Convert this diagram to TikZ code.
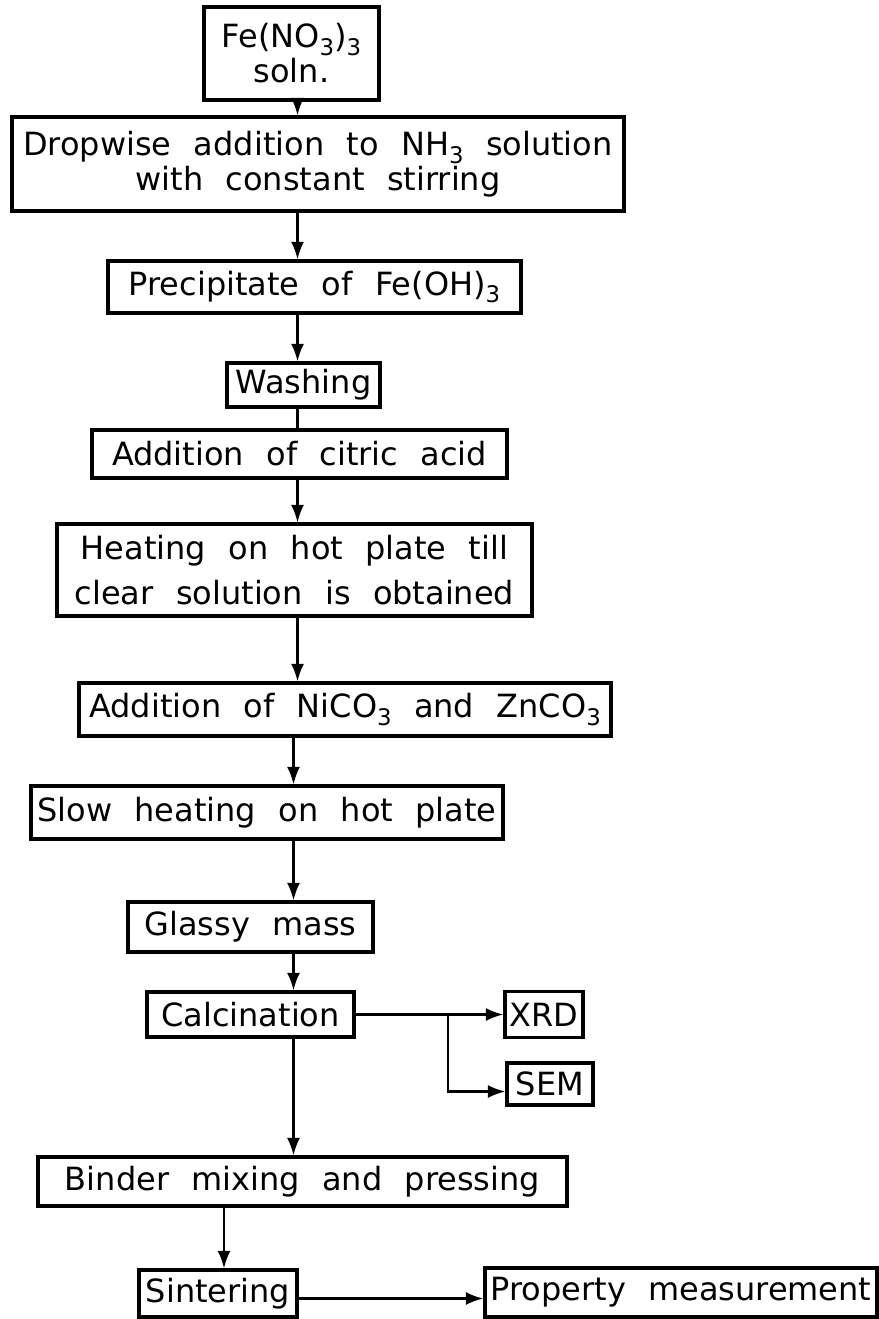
\documentclass[tikz,border=0pt]{standalone}
\usepackage{fontspec}
\setmainfont{DejaVu Sans}[WordSpace=2.2]
\usetikzlibrary{arrows.meta}
\newcommand{\chemsub}[1]{\raisebox{-0.45ex}{\fontsize{13}{13}\selectfont #1}}

\begin{document}
\begin{tikzpicture}[
  stepbox/.style={draw, rectangle, line width=1.8pt, inner sep=1pt, align=center, font=\fontsize{18.2}{20}\selectfont},
  arr/.style={line width=1.4pt, -{Latex[length=3.5mm,width=2.6mm]}},
  link/.style={line width=1.4pt}
]
\useasboundingbox (0,0) rectangle (17.58,-26.38);

% main column
\node[stepbox, minimum width=3.5cm, minimum height=1.86cm] (fe) at (5.83,-1.07) {Fe(NO\chemsub{3})\chemsub{3}\\soln.};
\node[stepbox, minimum width=12.24cm, minimum height=1.88cm] (drop) at (6.36,-3.28) {Dropwise addition to NH\chemsub{3} solution\\with constant stirring};
\node[stepbox, minimum width=8.26cm, minimum height=1.04cm] (prec) at (6.29,-5.74) {Precipitate of Fe(OH)\chemsub{3}};
\node[stepbox, minimum width=3.06cm, minimum height=0.88cm] (wash) at (6.07,-7.70) {Washing};
\node[stepbox, minimum width=8.3cm, minimum height=0.96cm] (citric) at (5.99,-9.08) {Addition of citric acid};
\node[stepbox, minimum width=9.5cm, minimum height=1.84cm] (heat) at (5.89,-11.40) {Heating on hot plate till\\[6pt]clear solution is obtained};
\node[stepbox, minimum width=10.64cm, minimum height=1.06cm] (nico) at (6.90,-14.19) {Addition of NiCO\chemsub{3} and ZnCO\chemsub{3}};
\node[stepbox, minimum width=9.44cm, minimum height=1.06cm] (slow) at (5.34,-16.25) {Slow heating on hot plate};
\node[stepbox, minimum width=4.9cm, minimum height=1.0cm] (glassy) at (5.01,-18.54) {Glassy mass};
\node[stepbox, minimum width=4.14cm, minimum height=0.9cm] (calc) at (5.01,-20.29) {Calcination};
\node[stepbox, minimum width=10.58cm, minimum height=0.98cm] (binder) at (6.05,-23.63) {Binder mixing and pressing};
\node[stepbox, minimum width=3.16cm, minimum height=0.94cm] (sint) at (4.36,-25.87) {Sintering};

% side boxes
\node[stepbox, minimum width=1.56cm, minimum height=0.92cm] (xrd) at (10.88,-20.29) {XRD};
\node[stepbox, minimum width=1.72cm, minimum height=0.84cm] (sem) at (11.0,-21.68) {SEM};
\node[stepbox, minimum width=7.84cm, minimum height=0.98cm] (prop) at (13.62,-25.85) {Property measurement};

% vertical lines of the column
\coordinate (axA) at (5.95,0);
\coordinate (axB) at (5.87,0);
\coordinate (axC) at (4.48,0);
\coordinate (split) at (8.96,-20.29);

\draw[arr] (fe.south -| axA) -- (drop.north -| axA);
\draw[arr] (drop.south -| axA) -- (prec.north -| axA);
\draw[arr] (prec.south -| axA) -- (wash.north -| axA);
\draw[link] (wash.south -| axA) -- (citric.north -| axA);
\draw[arr] (citric.south -| axA) -- (heat.north -| axA);
\draw[arr] (heat.south -| axA) -- (nico.north -| axA);
\draw[arr] (nico.south -| axB) -- (slow.north -| axB);
\draw[arr] (slow.south -| axB) -- (glassy.north -| axB);
\draw[arr] (glassy.south -| axB) -- (calc.north -| axB);
\draw[arr] (calc.south -| axB) -- (binder.north -| axB);
\draw[arr] (binder.south -| axC) -- (sint.north -| axC);

% branches
\draw[arr] (calc.east) -- (xrd.west);
\draw[arr] (split) |- ([yshift=-1.5mm]sem.west);
\draw[arr] ([yshift=-1mm]sint.east) -- ([yshift=-1mm]sint.east -| prop.west);

\end{tikzpicture}
\end{document}
